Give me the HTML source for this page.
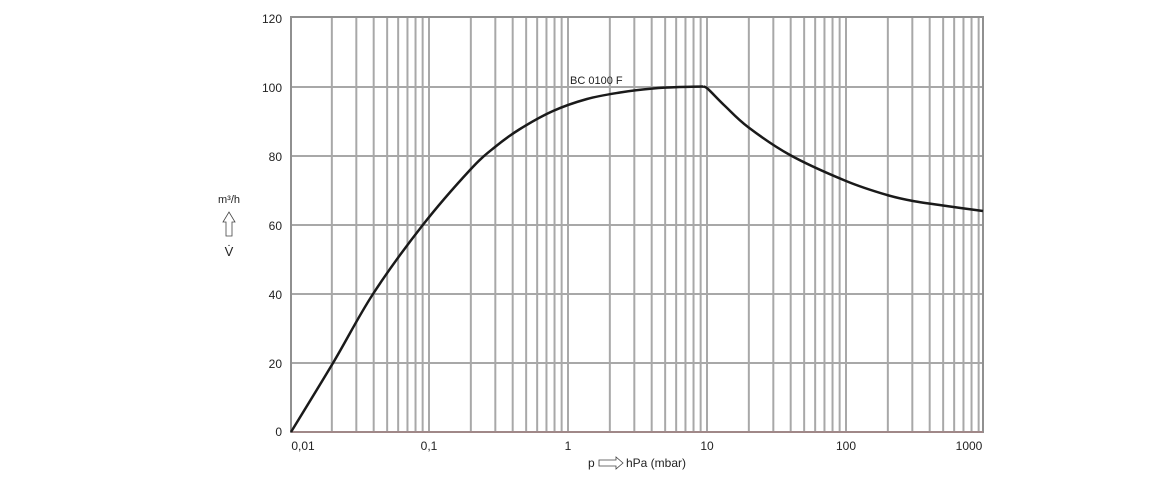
<!DOCTYPE html>
<html><head><meta charset="utf-8"><style>
html,body{margin:0;padding:0;background:#fff;}
svg text{font-family:"Liberation Sans",sans-serif;fill:#222;}
</style></head><body>
<svg width="1160" height="480" viewBox="0 0 1160 480" xmlns="http://www.w3.org/2000/svg">
<g stroke="#a8a8a8" stroke-width="2" fill="none">
<line x1="291" y1="87" x2="983" y2="87"/>
<line x1="291" y1="156" x2="983" y2="156"/>
<line x1="291" y1="225" x2="983" y2="225"/>
<line x1="291" y1="294" x2="983" y2="294"/>
<line x1="291" y1="363" x2="983" y2="363"/>
</g>
<g id="grid" stroke="#a8a8a8" stroke-width="2"></g>
<rect x="291" y="17" width="692" height="415" fill="none" stroke="#909090" stroke-width="2"/>
<line x1="291" y1="432" x2="983" y2="432" stroke="#b08080" stroke-width="1"/>
<path id="c1" fill="none" stroke="#1a1a1a" stroke-width="2.5" stroke-linejoin="round" d=""/>
<path id="c2" fill="none" stroke="#1a1a1a" stroke-width="2.5" stroke-linejoin="round" d=""/>
<text x="570" y="84" font-size="11">BC 0100 F</text>
<g font-size="12" text-anchor="end">
<text x="282" y="23">120</text><text x="282" y="92">100</text><text x="282" y="161">80</text>
<text x="282" y="230">60</text><text x="282" y="299">40</text><text x="282" y="368">20</text><text x="282" y="436">0</text>
</g>
<g font-size="12" text-anchor="middle">
<text x="303" y="450">0,01</text><text x="429" y="450">0,1</text><text x="568" y="450">1</text>
<text x="707" y="450">10</text><text x="846" y="450">100</text><text x="969" y="450">1000</text>
</g>
<text x="229" y="203" font-size="11" text-anchor="middle">m³/h</text>
<path d="M226,236 L226,222 L223,222 L229,212 L235,222 L232,222 L232,236 Z" fill="none" stroke="#444" stroke-width="0.8"/>
<text x="229" y="256" font-size="13" text-anchor="middle">V̇</text>
<text x="588" y="467" font-size="12">p</text>
<path d="M599,460 L616,460 L616,457 L623,463 L616,469 L616,466 L599,466 Z" fill="none" stroke="#444" stroke-width="0.8"/>
<text x="626" y="467" font-size="12">hPa (mbar)</text>
</svg>
<script>
var g=document.getElementById('grid');
for(var d=-2;d<=2;d++){for(var k=1;k<=9;k++){var x=290+139*(d+2)+139*Math.log10(k);if(x<=292||x>=982)continue;
var l=document.createElementNS('http://www.w3.org/2000/svg','line');l.setAttribute('x1',x);l.setAttribute('x2',x);l.setAttribute('y1',17);l.setAttribute('y2',432);g.appendChild(l);}}
function cr(p){var s='M'+p[0][0]+','+p[0][1];for(var i=0;i<p.length-1;i++){var a=p[Math.max(0,i-1)],b=p[i],c=p[i+1],d=p[Math.min(p.length-1,i+2)];
s+=' C'+(b[0]+(c[0]-a[0])/6).toFixed(1)+','+(b[1]+(c[1]-a[1])/6).toFixed(1)+' '+(c[0]-(d[0]-b[0])/6).toFixed(1)+','+(c[1]-(d[1]-b[1])/6).toFixed(1)+' '+c[0]+','+c[1];}return s;}
document.getElementById('c1').setAttribute('d',cr([[291,432],[333,363],[373,294],[422,226],[470,170],[495,147],[520,129],[553,111],[587,99],[620,92.5],[653,88.5],[680,87],[703,86.5]]));
document.getElementById('c2').setAttribute('d',cr([[703,86.5],[708,89],[725,106],[748,127],[790,155],[846,181],[887,195],[913,201],[950,206.5],[983,211]]));
</script>
</body></html>
